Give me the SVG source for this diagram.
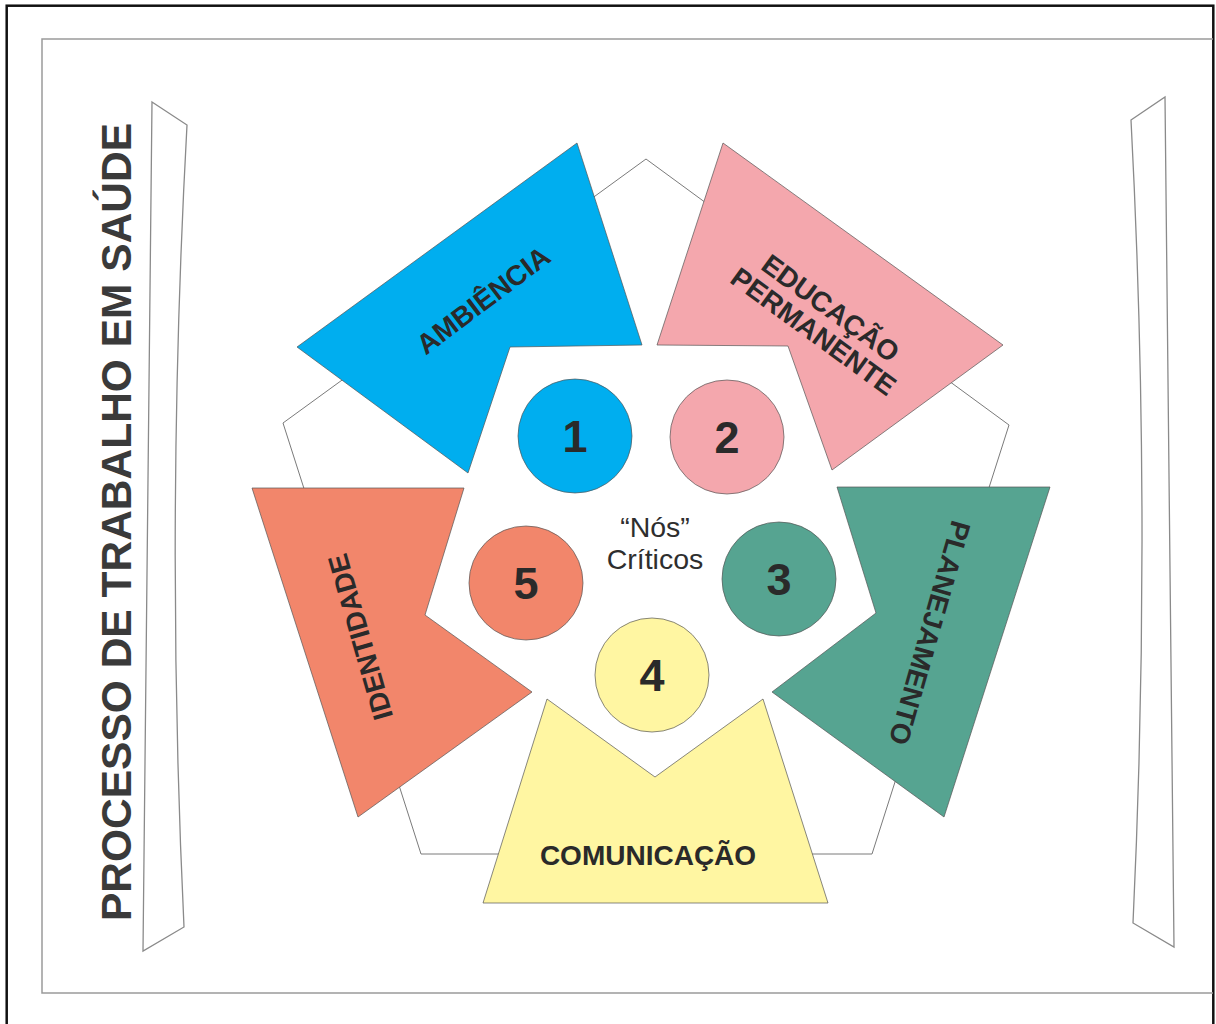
<svg xmlns="http://www.w3.org/2000/svg" width="1216" height="1024" viewBox="0 0 1216 1024">
  <style>
    .frame { fill: none; stroke: #111; stroke-width: 2.5; }
    .panel { fill: none; stroke: #9a9a9a; stroke-width: 1.5; }
    .bracket { fill: #fff; stroke: #8a8a8a; stroke-width: 1.3; }
    .outline { fill: #fff; stroke: #7a7a7a; stroke-width: 1; }
    .shape { stroke: #555; stroke-opacity: 0.7; stroke-width: 1; }
    .blue { fill: #00AEEF; }
    .pink { fill: #F4A7AD; }
    .teal { fill: #56A491; }
    .yellow { fill: #FFF6A2; }
    .orange { fill: #F2866B; }
    .label { font-family: "Liberation Sans", Arial, sans-serif; font-weight: bold; font-size: 28px; fill: #2a2a2a; text-anchor: middle; }
    .num { font-family: "Liberation Sans", Arial, sans-serif; font-weight: bold; font-size: 45px; fill: #2a2a2a; text-anchor: middle; }
    .center { font-family: "Liberation Sans", Arial, sans-serif; font-size: 28.5px; fill: #2e2e2e; text-anchor: middle; }
    .title { font-family: "Liberation Sans", Arial, sans-serif; font-weight: bold; font-size: 42.5px; fill: #3a3a3a; text-anchor: middle; }
  </style>

  <rect width="1216" height="1024" fill="#fff"/>

  <!-- outer frame and inner panel -->
  <rect class="frame" x="6.7" y="5.7" width="1206.6" height="1040"/>
  <path class="panel" d="M1213,39 H42 V993 H1213"/>

  <!-- side brackets -->
  <path id="bracket-left" class="bracket" d="M152,102 L187,125 Q165,526 184,927 L143,951 Z"/>
  <path id="bracket-right" class="bracket" d="M1131,120 L1165,97 L1174,947 L1133,923 Q1152,521 1131,120 Z"/>

  <!-- vertical title -->
  <text id="title" class="title" transform="translate(131,522) rotate(-90)">PROCESSO DE TRABALHO EM SAÚDE</text>

  <!-- background pentagon -->
  <polygon id="pentagon" class="outline" points="646,159 1009,425 872,854 421,854 283,423"/>

  <!-- outer segments -->
  <g id="ambiencia">
    <polygon class="shape blue" points="577,143 642,345 510,347 468,473 297,347"/>
    <text class="label" transform="translate(483,300) rotate(-37)" y="10">AMBIÊNCIA</text>
  </g>
  <g id="educacao-permanente">
    <polygon class="shape pink" points="723,143 1003,345 832,470 788,346 657,345"/>
    <g transform="translate(822,320) rotate(36)">
      <text class="label" y="-5">EDUCAÇÃO</text>
      <text class="label" y="24">PERMANENTE</text>
    </g>
  </g>
  <g id="planejamento">
    <polygon class="shape teal" points="837,487 1050,487 944,817 772,692 876,613"/>
    <text class="label" transform="translate(930,633) rotate(106)" y="10">PLANEJAMENTO</text>
  </g>
  <g id="comunicacao">
    <polygon class="shape yellow" points="547,699 655,777 763,699 828,903 483,903"/>
    <text class="label" x="648" y="865">COMUNICAÇÃO</text>
  </g>
  <g id="identidade">
    <polygon class="shape orange" points="252,488 464,488 425,615 532,692 358,817"/>
    <text class="label" transform="translate(360,637) rotate(-106)" y="10">IDENTIDADE</text>
  </g>

  <!-- critical nodes -->
  <g id="no-1">
    <circle class="shape blue" cx="575" cy="436" r="57"/>
    <text class="num" x="575" y="452">1</text>
  </g>
  <g id="no-2">
    <circle class="shape pink" cx="727" cy="437" r="57"/>
    <text class="num" x="727" y="453">2</text>
  </g>
  <g id="no-3">
    <circle class="shape teal" cx="779" cy="579" r="57"/>
    <text class="num" x="779" y="595">3</text>
  </g>
  <g id="no-4">
    <circle class="shape yellow" cx="652" cy="675" r="57"/>
    <text class="num" x="652" y="691">4</text>
  </g>
  <g id="no-5">
    <circle class="shape orange" cx="526" cy="583" r="57"/>
    <text class="num" x="526" y="599">5</text>
  </g>

  <!-- centre caption -->
  <g id="nos-criticos">
    <text class="center" x="655" y="537">“Nós”</text>
    <text class="center" x="655" y="569">Críticos</text>
  </g>

  <g id="connectors"/>
</svg>
